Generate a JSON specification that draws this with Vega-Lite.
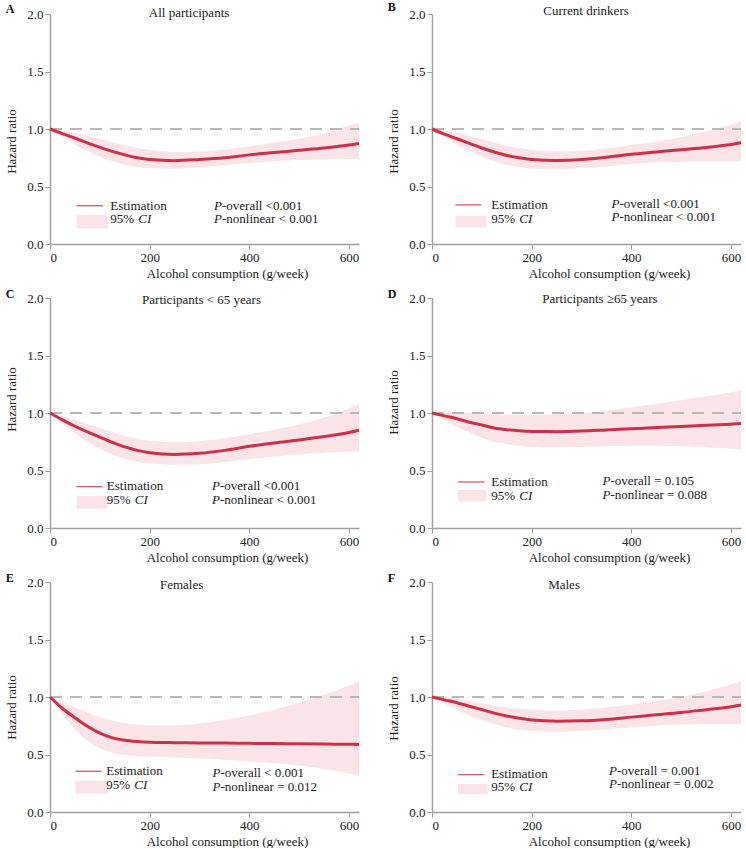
{
"$schema": "https://vega.github.io/schema/vega-lite/v6.json",
"background": "white",
"padding": {"left": 5, "right": 0, "top": 0, "bottom": 0},
"config": {
  "view": {"stroke": null},
  "font": "Liberation Serif",
  "text": {"font": "Liberation Serif", "fontSize": 13, "color": "#222"},
  "title": {"font": "Liberation Serif", "fontSize": 12, "fontWeight": "bold", "anchor": "start", "frame": "bounds", "offset": -9, "color": "#111"},
  "axis": {"labelFont": "Liberation Serif", "labelFontSize": 13, "titleFont": "Liberation Serif", "titleFontSize": 13, "titleFontWeight": "normal", "labelColor": "#222", "titleColor": "#222", "domainColor": "#a0a0a0", "tickColor": "#a0a0a0", "domainWidth": 1.5, "grid": false, "tickSize": 5, "labelPadding": 2},
  "axisY": {"titlePadding": 8},
  "axisX": {"titlePadding": 3, "titleX": 177}
},
"datasets": {
  "A": [{"x":0,"est":1.0,"lo":1.0,"hi":1.0},{"x":25,"est":0.96,"lo":0.93,"hi":0.985},{"x":50,"est":0.92,"lo":0.865,"hi":0.965},{"x":75,"est":0.88,"lo":0.81,"hi":0.94},{"x":100,"est":0.84,"lo":0.76,"hi":0.915},{"x":125,"est":0.805,"lo":0.72,"hi":0.885},{"x":150,"est":0.775,"lo":0.69,"hi":0.86},{"x":175,"est":0.75,"lo":0.67,"hi":0.835},{"x":200,"est":0.735,"lo":0.66,"hi":0.82},{"x":250,"est":0.725,"lo":0.655,"hi":0.80},{"x":300,"est":0.735,"lo":0.665,"hi":0.805},{"x":350,"est":0.75,"lo":0.685,"hi":0.82},{"x":400,"est":0.775,"lo":0.705,"hi":0.85},{"x":450,"est":0.795,"lo":0.72,"hi":0.88},{"x":500,"est":0.815,"lo":0.73,"hi":0.915},{"x":550,"est":0.835,"lo":0.735,"hi":0.96},{"x":600,"est":0.86,"lo":0.74,"hi":1.03},{"x":620,"est":0.875,"lo":0.74,"hi":1.055}],
  "B": [{"x":0,"est":1.0,"lo":1.0,"hi":1.0},{"x":25,"est":0.955,"lo":0.93,"hi":0.985},{"x":50,"est":0.915,"lo":0.865,"hi":0.965},{"x":75,"est":0.875,"lo":0.81,"hi":0.94},{"x":100,"est":0.835,"lo":0.76,"hi":0.91},{"x":125,"est":0.80,"lo":0.72,"hi":0.88},{"x":150,"est":0.77,"lo":0.69,"hi":0.855},{"x":175,"est":0.75,"lo":0.67,"hi":0.835},{"x":200,"est":0.735,"lo":0.655,"hi":0.82},{"x":250,"est":0.727,"lo":0.65,"hi":0.805},{"x":300,"est":0.735,"lo":0.66,"hi":0.81},{"x":350,"est":0.755,"lo":0.675,"hi":0.83},{"x":400,"est":0.78,"lo":0.695,"hi":0.86},{"x":450,"est":0.80,"lo":0.71,"hi":0.89},{"x":500,"est":0.82,"lo":0.715,"hi":0.93},{"x":550,"est":0.84,"lo":0.72,"hi":0.98},{"x":600,"est":0.865,"lo":0.72,"hi":1.04},{"x":620,"est":0.88,"lo":0.72,"hi":1.07}],
  "C": [{"x":0,"est":1.0,"lo":1.0,"hi":1.0},{"x":25,"est":0.94,"lo":0.91,"hi":0.97},{"x":50,"est":0.885,"lo":0.825,"hi":0.94},{"x":75,"est":0.835,"lo":0.75,"hi":0.905},{"x":100,"est":0.79,"lo":0.69,"hi":0.87},{"x":125,"est":0.745,"lo":0.64,"hi":0.835},{"x":150,"est":0.705,"lo":0.60,"hi":0.80},{"x":175,"est":0.675,"lo":0.575,"hi":0.775},{"x":200,"est":0.655,"lo":0.56,"hi":0.76},{"x":250,"est":0.64,"lo":0.55,"hi":0.745},{"x":300,"est":0.65,"lo":0.555,"hi":0.755},{"x":350,"est":0.675,"lo":0.575,"hi":0.78},{"x":400,"est":0.71,"lo":0.60,"hi":0.815},{"x":450,"est":0.74,"lo":0.62,"hi":0.855},{"x":500,"est":0.765,"lo":0.64,"hi":0.90},{"x":550,"est":0.795,"lo":0.655,"hi":0.96},{"x":600,"est":0.83,"lo":0.665,"hi":1.04},{"x":620,"est":0.85,"lo":0.67,"hi":1.08}],
  "D": [{"x":0,"est":1.0,"lo":1.0,"hi":1.0},{"x":25,"est":0.975,"lo":0.94,"hi":1.0},{"x":50,"est":0.95,"lo":0.88,"hi":1.0},{"x":75,"est":0.92,"lo":0.83,"hi":1.0},{"x":100,"est":0.895,"lo":0.785,"hi":0.995},{"x":125,"est":0.87,"lo":0.75,"hi":0.99},{"x":150,"est":0.855,"lo":0.73,"hi":0.985},{"x":175,"est":0.845,"lo":0.715,"hi":0.985},{"x":200,"est":0.84,"lo":0.705,"hi":0.985},{"x":250,"est":0.838,"lo":0.70,"hi":0.99},{"x":300,"est":0.843,"lo":0.705,"hi":1.0},{"x":350,"est":0.853,"lo":0.71,"hi":1.02},{"x":400,"est":0.863,"lo":0.715,"hi":1.05},{"x":450,"est":0.873,"lo":0.715,"hi":1.08},{"x":500,"est":0.883,"lo":0.71,"hi":1.11},{"x":550,"est":0.893,"lo":0.70,"hi":1.145},{"x":600,"est":0.903,"lo":0.69,"hi":1.18},{"x":620,"est":0.908,"lo":0.68,"hi":1.2}],
  "E": [{"x":0,"est":1.0,"lo":1.0,"hi":1.0},{"x":25,"est":0.90,"lo":0.85,"hi":0.955},{"x":50,"est":0.82,"lo":0.72,"hi":0.91},{"x":75,"est":0.745,"lo":0.62,"hi":0.865},{"x":100,"est":0.685,"lo":0.555,"hi":0.825},{"x":125,"est":0.645,"lo":0.515,"hi":0.795},{"x":150,"est":0.623,"lo":0.495,"hi":0.775},{"x":175,"est":0.612,"lo":0.485,"hi":0.762},{"x":200,"est":0.606,"lo":0.48,"hi":0.755},{"x":250,"est":0.603,"lo":0.475,"hi":0.755},{"x":300,"est":0.601,"lo":0.465,"hi":0.77},{"x":350,"est":0.599,"lo":0.455,"hi":0.80},{"x":400,"est":0.597,"lo":0.44,"hi":0.84},{"x":450,"est":0.595,"lo":0.425,"hi":0.89},{"x":500,"est":0.593,"lo":0.405,"hi":0.95},{"x":550,"est":0.591,"lo":0.375,"hi":1.02},{"x":600,"est":0.589,"lo":0.335,"hi":1.10},{"x":620,"est":0.588,"lo":0.315,"hi":1.14}],
  "F": [{"x":0,"est":1.0,"lo":1.0,"hi":1.0},{"x":25,"est":0.975,"lo":0.945,"hi":1.0},{"x":50,"est":0.95,"lo":0.89,"hi":0.985},{"x":75,"est":0.92,"lo":0.84,"hi":0.965},{"x":100,"est":0.89,"lo":0.80,"hi":0.945},{"x":125,"est":0.86,"lo":0.765,"hi":0.925},{"x":150,"est":0.835,"lo":0.735,"hi":0.91},{"x":175,"est":0.815,"lo":0.715,"hi":0.90},{"x":200,"est":0.80,"lo":0.705,"hi":0.89},{"x":250,"est":0.79,"lo":0.70,"hi":0.885},{"x":300,"est":0.793,"lo":0.705,"hi":0.89},{"x":350,"est":0.805,"lo":0.72,"hi":0.91},{"x":400,"est":0.825,"lo":0.735,"hi":0.935},{"x":450,"est":0.845,"lo":0.75,"hi":0.965},{"x":500,"est":0.865,"lo":0.76,"hi":1.0},{"x":550,"est":0.89,"lo":0.765,"hi":1.05},{"x":600,"est":0.915,"lo":0.765,"hi":1.11},{"x":620,"est":0.93,"lo":0.765,"hi":1.14}]
},
"columns": 2,
"spacing": {"row": 8, "column": 22},
"concat": [
{
 "width": 309, "height": 230, "title": {"text": "A"},
 "layer": [
  {"data": {"name": "A"}, "mark": {"type": "area", "color": "#fbe4e7", "interpolate": "monotone"},
   "encoding": {"x": {"field": "x", "type": "quantitative", "title": "Alcohol consumption (g/week)", "scale": {"domain": [0, 620], "nice": false}, "axis": {"values": [0, 200, 400, 600]}},
                "y": {"field": "lo", "type": "quantitative", "title": "Hazard ratio", "scale": {"domain": [0, 2]}, "axis": {"values": [0, 0.5, 1, 1.5, 2], "format": ".1f", "titleY": 127}},
                "y2": {"field": "hi"}}},
  {"data": {"values": [{}]}, "mark": {"type": "rule", "color": "#b8b8b8", "strokeWidth": 2, "strokeDash": [12, 8]},
   "encoding": {"x": {"datum": 0}, "x2": {"datum": 620}, "y": {"datum": 1}}},
  {"data": {"name": "A"}, "mark": {"type": "line", "color": "#cf3049", "strokeWidth": 3, "interpolate": "monotone"},
   "encoding": {"x": {"field": "x", "type": "quantitative", "title": "Alcohol consumption (g/week)"}, "y": {"field": "est", "type": "quantitative", "title": "Hazard ratio"}}},
  {"data": {"values": [{}]}, "mark": {"type": "rule", "color": "#e0566a", "strokeWidth": 1.3},
   "encoding": {"x": {"datum": 53}, "x2": {"datum": 106}, "y": {"datum": 0.333}}},
  {"data": {"values": [{}]}, "mark": {"type": "rect", "color": "#fbe4e7"},
   "encoding": {"x": {"datum": 53}, "x2": {"datum": 116}, "y": {"datum": 0.136}, "y2": {"datum": 0.252}}},
  {"data": {"values": [{}]}, "mark": {"type": "text", "text": "All participants", "align": "center", "baseline": "middle"},
   "encoding": {"x": {"datum": 279}, "y": {"datum": 2.01}}},
  {"data": {"values": [{}]}, "mark": {"type": "text", "text": ["Estimation", "95%"], "align": "left", "baseline": "middle", "lineHeight": 13.7},
   "encoding": {"x": {"datum": 121}, "y": {"datum": 0.3345}}},
  {"data": {"values": [{}]}, "mark": {"type": "text", "text": "CI", "fontStyle": "italic", "align": "left", "baseline": "middle", "dx": 28},
   "encoding": {"x": {"datum": 121}, "y": {"datum": 0.2155}}},
  {"data": {"values": [{}]}, "mark": {"type": "text", "text": ["P", "P"], "fontStyle": "italic", "align": "left", "baseline": "middle", "lineHeight": 13.7},
   "encoding": {"x": {"datum": 329}, "y": {"datum": 0.3345}}},
  {"data": {"values": [{}]}, "mark": {"type": "text", "text": ["-overall <0.001", "-nonlinear < 0.001"], "align": "left", "baseline": "middle", "lineHeight": 13.7, "dx": 8},
   "encoding": {"x": {"datum": 329}, "y": {"datum": 0.3345}}}
 ]
},
{
 "width": 309, "height": 230, "title": {"text": "B"},
 "layer": [
  {"data": {"name": "B"}, "mark": {"type": "area", "color": "#fbe4e7", "interpolate": "monotone"},
   "encoding": {"x": {"field": "x", "type": "quantitative", "title": "Alcohol consumption (g/week)", "scale": {"domain": [0, 620], "nice": false}, "axis": {"values": [0, 200, 400, 600]}},
                "y": {"field": "lo", "type": "quantitative", "title": "Hazard ratio", "scale": {"domain": [0, 2]}, "axis": {"values": [0, 0.5, 1, 1.5, 2], "format": ".1f", "titleY": 127}},
                "y2": {"field": "hi"}}},
  {"data": {"values": [{}]}, "mark": {"type": "rule", "color": "#b8b8b8", "strokeWidth": 2, "strokeDash": [12, 8]},
   "encoding": {"x": {"datum": 0}, "x2": {"datum": 620}, "y": {"datum": 1}}},
  {"data": {"name": "B"}, "mark": {"type": "line", "color": "#cf3049", "strokeWidth": 3, "interpolate": "monotone"},
   "encoding": {"x": {"field": "x", "type": "quantitative", "title": "Alcohol consumption (g/week)"}, "y": {"field": "est", "type": "quantitative", "title": "Hazard ratio"}}},
  {"data": {"values": [{}]}, "mark": {"type": "rule", "color": "#e0566a", "strokeWidth": 1.3},
   "encoding": {"x": {"datum": 47}, "x2": {"datum": 99}, "y": {"datum": 0.34}}},
  {"data": {"values": [{}]}, "mark": {"type": "rect", "color": "#fbe4e7"},
   "encoding": {"x": {"datum": 47}, "x2": {"datum": 109}, "y": {"datum": 0.144}, "y2": {"datum": 0.245}}},
  {"data": {"values": [{}]}, "mark": {"type": "text", "text": "Current drinkers", "align": "center", "baseline": "middle"},
   "encoding": {"x": {"datum": 309}, "y": {"datum": 2.03}}},
  {"data": {"values": [{}]}, "mark": {"type": "text", "text": ["Estimation", "95%"], "align": "left", "baseline": "middle", "lineHeight": 13.7},
   "encoding": {"x": {"datum": 119}, "y": {"datum": 0.3375}}},
  {"data": {"values": [{}]}, "mark": {"type": "text", "text": "CI", "fontStyle": "italic", "align": "left", "baseline": "middle", "dx": 28},
   "encoding": {"x": {"datum": 119}, "y": {"datum": 0.2185}}},
  {"data": {"values": [{}]}, "mark": {"type": "text", "text": ["P", "P"], "fontStyle": "italic", "align": "left", "baseline": "middle", "lineHeight": 13.7},
   "encoding": {"x": {"datum": 360}, "y": {"datum": 0.3495}}},
  {"data": {"values": [{}]}, "mark": {"type": "text", "text": ["-overall <0.001", "-nonlinear < 0.001"], "align": "left", "baseline": "middle", "lineHeight": 13.7, "dx": 8},
   "encoding": {"x": {"datum": 360}, "y": {"datum": 0.3495}}}
 ]
},
{
 "width": 309, "height": 230, "title": {"text": "C"},
 "layer": [
  {"data": {"name": "C"}, "mark": {"type": "area", "color": "#fbe4e7", "interpolate": "monotone"},
   "encoding": {"x": {"field": "x", "type": "quantitative", "title": "Alcohol consumption (g/week)", "scale": {"domain": [0, 620], "nice": false}, "axis": {"values": [0, 200, 400, 600]}},
                "y": {"field": "lo", "type": "quantitative", "title": "Hazard ratio", "scale": {"domain": [0, 2]}, "axis": {"values": [0, 0.5, 1, 1.5, 2], "format": ".1f", "titleY": 101}},
                "y2": {"field": "hi"}}},
  {"data": {"values": [{}]}, "mark": {"type": "rule", "color": "#b8b8b8", "strokeWidth": 2, "strokeDash": [12, 8]},
   "encoding": {"x": {"datum": 0}, "x2": {"datum": 620}, "y": {"datum": 1}}},
  {"data": {"name": "C"}, "mark": {"type": "line", "color": "#cf3049", "strokeWidth": 3, "interpolate": "monotone"},
   "encoding": {"x": {"field": "x", "type": "quantitative", "title": "Alcohol consumption (g/week)"}, "y": {"field": "est", "type": "quantitative", "title": "Hazard ratio"}}},
  {"data": {"values": [{}]}, "mark": {"type": "rule", "color": "#e0566a", "strokeWidth": 1.3},
   "encoding": {"x": {"datum": 53}, "x2": {"datum": 105}, "y": {"datum": 0.36}}},
  {"data": {"values": [{}]}, "mark": {"type": "rect", "color": "#fbe4e7"},
   "encoding": {"x": {"datum": 53}, "x2": {"datum": 116}, "y": {"datum": 0.166}, "y2": {"datum": 0.28}}},
  {"data": {"values": [{}]}, "mark": {"type": "text", "text": "Participants < 65 years", "align": "center", "baseline": "middle"},
   "encoding": {"x": {"datum": 304}, "y": {"datum": 1.98}}},
  {"data": {"values": [{}]}, "mark": {"type": "text", "text": ["Estimation", "95%"], "align": "left", "baseline": "middle", "lineHeight": 13.7},
   "encoding": {"x": {"datum": 114}, "y": {"datum": 0.3635}}},
  {"data": {"values": [{}]}, "mark": {"type": "text", "text": "CI", "fontStyle": "italic", "align": "left", "baseline": "middle", "dx": 28},
   "encoding": {"x": {"datum": 114}, "y": {"datum": 0.2445}}},
  {"data": {"values": [{}]}, "mark": {"type": "text", "text": ["P", "P"], "fontStyle": "italic", "align": "left", "baseline": "middle", "lineHeight": 13.7},
   "encoding": {"x": {"datum": 325}, "y": {"datum": 0.3635}}},
  {"data": {"values": [{}]}, "mark": {"type": "text", "text": ["-overall  <0.001", "-nonlinear < 0.001"], "align": "left", "baseline": "middle", "lineHeight": 13.7, "dx": 8},
   "encoding": {"x": {"datum": 325}, "y": {"datum": 0.3635}}}
 ]
},
{
 "width": 309, "height": 230, "title": {"text": "D"},
 "layer": [
  {"data": {"name": "D"}, "mark": {"type": "area", "color": "#fbe4e7", "interpolate": "monotone"},
   "encoding": {"x": {"field": "x", "type": "quantitative", "title": "Alcohol consumption (g/week)", "scale": {"domain": [0, 620], "nice": false}, "axis": {"values": [0, 200, 400, 600]}},
                "y": {"field": "lo", "type": "quantitative", "title": "Hazard ratio", "scale": {"domain": [0, 2]}, "axis": {"values": [0, 0.5, 1, 1.5, 2], "format": ".1f", "titleY": 104}},
                "y2": {"field": "hi"}}},
  {"data": {"values": [{}]}, "mark": {"type": "rule", "color": "#b8b8b8", "strokeWidth": 2, "strokeDash": [12, 8]},
   "encoding": {"x": {"datum": 0}, "x2": {"datum": 620}, "y": {"datum": 1}}},
  {"data": {"name": "D"}, "mark": {"type": "line", "color": "#cf3049", "strokeWidth": 3, "interpolate": "monotone"},
   "encoding": {"x": {"field": "x", "type": "quantitative", "title": "Alcohol consumption (g/week)"}, "y": {"field": "est", "type": "quantitative", "title": "Hazard ratio"}}},
  {"data": {"values": [{}]}, "mark": {"type": "rule", "color": "#e0566a", "strokeWidth": 1.3},
   "encoding": {"x": {"datum": 52}, "x2": {"datum": 105}, "y": {"datum": 0.40}}},
  {"data": {"values": [{}]}, "mark": {"type": "rect", "color": "#fbe4e7"},
   "encoding": {"x": {"datum": 52}, "x2": {"datum": 109}, "y": {"datum": 0.23}, "y2": {"datum": 0.33}}},
  {"data": {"values": [{}]}, "mark": {"type": "text", "text": "Participants ≥65 years", "align": "center", "baseline": "middle"},
   "encoding": {"x": {"datum": 337}, "y": {"datum": 1.99}}},
  {"data": {"values": [{}]}, "mark": {"type": "text", "text": ["Estimation", "95%"], "align": "left", "baseline": "middle", "lineHeight": 13.7},
   "encoding": {"x": {"datum": 119}, "y": {"datum": 0.3975}}},
  {"data": {"values": [{}]}, "mark": {"type": "text", "text": "CI", "fontStyle": "italic", "align": "left", "baseline": "middle", "dx": 28},
   "encoding": {"x": {"datum": 119}, "y": {"datum": 0.2785}}},
  {"data": {"values": [{}]}, "mark": {"type": "text", "text": ["P", "P"], "fontStyle": "italic", "align": "left", "baseline": "middle", "lineHeight": 13.7},
   "encoding": {"x": {"datum": 342}, "y": {"datum": 0.4095}}},
  {"data": {"values": [{}]}, "mark": {"type": "text", "text": ["-overall = 0.105", "-nonlinear = 0.088"], "align": "left", "baseline": "middle", "lineHeight": 13.7, "dx": 8},
   "encoding": {"x": {"datum": 342}, "y": {"datum": 0.4095}}}
 ]
},
{
 "width": 309, "height": 230, "title": {"text": "E"},
 "layer": [
  {"data": {"name": "E"}, "mark": {"type": "area", "color": "#fbe4e7", "interpolate": "monotone"},
   "encoding": {"x": {"field": "x", "type": "quantitative", "title": "Alcohol consumption (g/week)", "scale": {"domain": [0, 620], "nice": false}, "axis": {"values": [0, 200, 400, 600]}},
                "y": {"field": "lo", "type": "quantitative", "title": "Hazard ratio", "scale": {"domain": [0, 2]}, "axis": {"values": [0, 0.5, 1, 1.5, 2], "format": ".1f", "titleY": 125}},
                "y2": {"field": "hi"}}},
  {"data": {"values": [{}]}, "mark": {"type": "rule", "color": "#b8b8b8", "strokeWidth": 2, "strokeDash": [12, 8]},
   "encoding": {"x": {"datum": 0}, "x2": {"datum": 620}, "y": {"datum": 1}}},
  {"data": {"name": "E"}, "mark": {"type": "line", "color": "#cf3049", "strokeWidth": 3, "interpolate": "monotone"},
   "encoding": {"x": {"field": "x", "type": "quantitative", "title": "Alcohol consumption (g/week)"}, "y": {"field": "est", "type": "quantitative", "title": "Hazard ratio"}}},
  {"data": {"values": [{}]}, "mark": {"type": "rule", "color": "#e0566a", "strokeWidth": 1.3},
   "encoding": {"x": {"datum": 51}, "x2": {"datum": 103}, "y": {"datum": 0.354}}},
  {"data": {"values": [{}]}, "mark": {"type": "rect", "color": "#fbe4e7"},
   "encoding": {"x": {"datum": 51}, "x2": {"datum": 116}, "y": {"datum": 0.158}, "y2": {"datum": 0.273}}},
  {"data": {"values": [{}]}, "mark": {"type": "text", "text": "Females", "align": "center", "baseline": "middle"},
   "encoding": {"x": {"datum": 264}, "y": {"datum": 1.97}}},
  {"data": {"values": [{}]}, "mark": {"type": "text", "text": ["Estimation", "95%"], "align": "left", "baseline": "middle", "lineHeight": 13.7},
   "encoding": {"x": {"datum": 113}, "y": {"datum": 0.3555}}},
  {"data": {"values": [{}]}, "mark": {"type": "text", "text": "CI", "fontStyle": "italic", "align": "left", "baseline": "middle", "dx": 28},
   "encoding": {"x": {"datum": 113}, "y": {"datum": 0.2365}}},
  {"data": {"values": [{}]}, "mark": {"type": "text", "text": ["P", "P"], "fontStyle": "italic", "align": "left", "baseline": "middle", "lineHeight": 13.7},
   "encoding": {"x": {"datum": 326}, "y": {"datum": 0.3355}}},
  {"data": {"values": [{}]}, "mark": {"type": "text", "text": ["-overall < 0.001", "-nonlinear = 0.012"], "align": "left", "baseline": "middle", "lineHeight": 13.7, "dx": 8},
   "encoding": {"x": {"datum": 326}, "y": {"datum": 0.3355}}}
 ]
},
{
 "width": 309, "height": 230, "title": {"text": "F"},
 "layer": [
  {"data": {"name": "F"}, "mark": {"type": "area", "color": "#fbe4e7", "interpolate": "monotone"},
   "encoding": {"x": {"field": "x", "type": "quantitative", "title": "Alcohol consumption (g/week)", "scale": {"domain": [0, 620], "nice": false}, "axis": {"values": [0, 200, 400, 600]}},
                "y": {"field": "lo", "type": "quantitative", "title": "Hazard ratio", "scale": {"domain": [0, 2]}, "axis": {"values": [0, 0.5, 1, 1.5, 2], "format": ".1f", "titleY": 126}},
                "y2": {"field": "hi"}}},
  {"data": {"values": [{}]}, "mark": {"type": "rule", "color": "#b8b8b8", "strokeWidth": 2, "strokeDash": [12, 8]},
   "encoding": {"x": {"datum": 0}, "x2": {"datum": 620}, "y": {"datum": 1}}},
  {"data": {"name": "F"}, "mark": {"type": "line", "color": "#cf3049", "strokeWidth": 3, "interpolate": "monotone"},
   "encoding": {"x": {"field": "x", "type": "quantitative", "title": "Alcohol consumption (g/week)"}, "y": {"field": "est", "type": "quantitative", "title": "Hazard ratio"}}},
  {"data": {"values": [{}]}, "mark": {"type": "rule", "color": "#e0566a", "strokeWidth": 1.3},
   "encoding": {"x": {"datum": 52}, "x2": {"datum": 105}, "y": {"datum": 0.325}}},
  {"data": {"values": [{}]}, "mark": {"type": "rect", "color": "#fbe4e7"},
   "encoding": {"x": {"datum": 52}, "x2": {"datum": 112}, "y": {"datum": 0.158}, "y2": {"datum": 0.245}}},
  {"data": {"values": [{}]}, "mark": {"type": "text", "text": "Males", "align": "center", "baseline": "middle"},
   "encoding": {"x": {"datum": 265}, "y": {"datum": 1.97}}},
  {"data": {"values": [{}]}, "mark": {"type": "text", "text": ["Estimation", "95%"], "align": "left", "baseline": "middle", "lineHeight": 13.7},
   "encoding": {"x": {"datum": 119}, "y": {"datum": 0.3325}}},
  {"data": {"values": [{}]}, "mark": {"type": "text", "text": "CI", "fontStyle": "italic", "align": "left", "baseline": "middle", "dx": 28},
   "encoding": {"x": {"datum": 119}, "y": {"datum": 0.2135}}},
  {"data": {"values": [{}]}, "mark": {"type": "text", "text": ["P", "P"], "fontStyle": "italic", "align": "left", "baseline": "middle", "lineHeight": 13.7},
   "encoding": {"x": {"datum": 355}, "y": {"datum": 0.3595}}},
  {"data": {"values": [{}]}, "mark": {"type": "text", "text": ["-overall = 0.001", "-nonlinear = 0.002"], "align": "left", "baseline": "middle", "lineHeight": 13.7, "dx": 8},
   "encoding": {"x": {"datum": 355}, "y": {"datum": 0.3595}}}
 ]
}
]
}
